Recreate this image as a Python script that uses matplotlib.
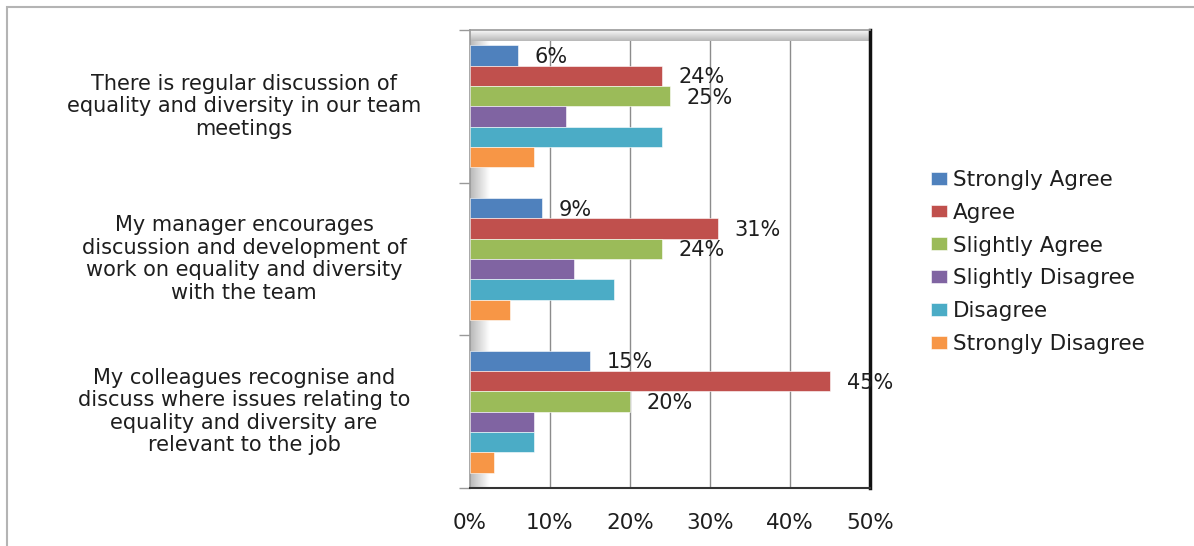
import numpy as np
import matplotlib.pyplot as plt
from matplotlib.patches import Rectangle
from matplotlib.transforms import blended_transform_factory

# Réponses au questionnaire (en %)
questions = [
    "There is regular discussion of\nequality and diversity in our team\nmeetings",
    "My manager encourages\ndiscussion and development of\nwork on equality and diversity\nwith the team",
    "My colleagues recognise and\ndiscuss where issues relating to\nequality and diversity are\nrelevant to the job",
]
reponses = ["Strongly Agree", "Agree", "Slightly Agree",
            "Slightly Disagree", "Disagree", "Strongly Disagree"]
strongly_agree = [6, 9, 15]
agree = [24, 31, 45]
slightly_agree = [25, 24, 20]
slightly_disagree = [12, 13, 8]
disagree = [24, 18, 8]
strongly_disagree = [8, 5, 3]
series = [strongly_agree, agree, slightly_agree,
          slightly_disagree, disagree, strongly_disagree]
# seules les trois premières séries portent une étiquette
etiquetees = [True, True, True, False, False, False]
couleurs = ["#4F81BD", "#C0504D", "#9BBB59", "#8064A2", "#4BACC6", "#F79646"]

plt.rcParams['font.family'] = ['DejaVu Sans']
texte = "#1e1e1e"

fig = plt.figure(figsize=(11.94, 5.46), dpi=100)
ax = fig.add_axes([470/1194, 1-488/546, 400/1194, 458/546])

# cadre extérieur
fig.patches.append(Rectangle((7/1194, -0.1), 1.2, 1-7/546+0.1,
                             transform=fig.transFigure, fill=False,
                             edgecolor="#b4b4b4", lw=1.5))

n = len(questions)
h = 0.8/len(series)
Y = np.arange(n) + 0.5
for k, (vals, c) in enumerate(zip(series, couleurs)):
    pos = Y - 0.4 + h*(k+0.5)
    ax.barh(pos, vals, height=h, color=c, edgecolor="white", lw=0.4,
            label=reponses[k], zorder=3)
    if etiquetees[k]:
        for y, v in zip(pos, vals):
            ax.text(v+2.1, y+0.01, str(v)+"%", va="center", ha="left",
                    fontsize=15, color=texte, zorder=4)

ax.set_xlim(0, 50)
ax.set_ylim(n, 0)
ax.set_xticks(np.arange(0, 51, 10))
ax.set_xticklabels([str(t)+"%" for t in range(0, 51, 10)])
ax.tick_params(axis="x", length=0, pad=18, labelsize=15.5, labelcolor=texte)
ax.set_yticks(np.arange(n+1))
ax.set_yticklabels([])
ax.tick_params(axis="y", length=8, color="#999999", width=1)
ax.grid(axis="x", color="#8c8c8c", lw=1, zorder=1)

# libellés des questions, centrés sur chaque groupe
trans = blended_transform_factory(ax.transAxes, ax.transData)
for y, q in zip(Y, questions):
    ax.text(-0.565, y, q, transform=trans, ha="center", va="center",
            fontsize=15, color=texte, linespacing=1.15)

# effet de paroi : dégradé à gauche et en haut
grad = np.linspace(0.72, 1.0, 64).reshape(1, -1)
ax.imshow(grad, cmap="gray", vmin=0, vmax=1, aspect="auto",
          extent=(0, 0.05, 1, 0), transform=ax.transAxes, zorder=2)
ax.imshow(grad.T, cmap="gray", vmin=0, vmax=1, aspect="auto",
          extent=(0, 1, 1, 0.975), transform=ax.transAxes, zorder=2)

for s in ["left", "top"]:
    ax.spines[s].set_color("#9a9a9a")
    ax.spines[s].set_linewidth(1.2)
ax.spines["right"].set_color("#111111")
ax.spines["right"].set_linewidth(2.5)
ax.spines["bottom"].set_color("#333333")
ax.spines["bottom"].set_linewidth(1.5)

fig.legend(loc="center left", bbox_to_anchor=(931/1194, 1-262/546),
           frameon=False, fontsize=15.5, handlelength=0.72, handleheight=0.55,
           handletextpad=0.3, labelspacing=0.6, borderpad=0,
           borderaxespad=0, labelcolor=texte)

plt.savefig("out.png", dpi=100)
